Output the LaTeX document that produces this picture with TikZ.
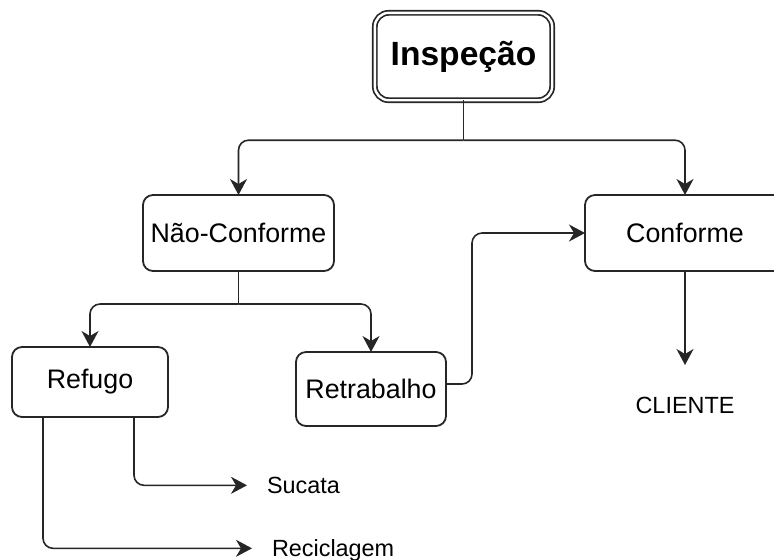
\documentclass[tikz,border=0pt]{standalone}
\usepackage{fontspec}
\setmainfont{Liberation Sans}
\usetikzlibrary{positioning, arrows.meta}

\begin{document}
\begin{tikzpicture}[
        every node/.style={align=center, outer sep=0pt},
        inspect/.style={rectangle, rounded corners=7pt, draw=black!85, double, line width=0.85pt, double distance=1.2pt, minimum width=88.7pt, minimum height=43.7pt, font=\fontsize{16.8pt}{20pt}\selectfont\bfseries},
        stage/.style={rectangle, rounded corners=5pt, draw=black!85, line width=0.9pt, minimum height=38pt, font=\fontsize{13.4pt}{15pt}\selectfont},
        outcome/.style={inner sep=0pt, text height=8.3pt, text depth=0pt, font=\fontsize{11.7pt}{14pt}\selectfont},
        link/.style={draw=black!85, line width=0.8pt},
        arrow/.style={link, -{Stealth[length=8pt, width=8.5pt, inset=2.5pt]}},
        flow/.style={arrow, rounded corners=5pt}
    ]

    \useasboundingbox (0,0) rectangle (387pt,-279.5pt);
    \clip (0,0) rectangle (387pt,-279.5pt);

    % Inspection
    \node[inspect] (insp) at (231.75pt,-28.25pt) {Inspeção};

    % Result of the inspection
    \node[stage, minimum width=95.5pt, below left=47.4pt and 20.4pt of insp] (nc) {Não-Conforme};
    \node[stage, minimum width=100pt, below right=47.4pt and 16.4pt of insp] (conf) {Conforme};

    % Non-conforming parts
    \node[stage, minimum width=78pt, minimum height=35pt, below=38pt of nc, xshift=-74.25pt] (ref) {Refugo};
    \node[stage, minimum width=75pt, minimum height=37pt, below=40.5pt of nc, xshift=66.25pt] (ret) {Retrabalho};

    % Destinations
    \node[outcome, below=63pt of conf] (cli) {CLIENTE};
    \node[outcome, below right=30pt and 49.5pt of ref] (suc) {Sucata};
    \node[outcome, below right=61.5pt and 52pt of ref] (rec) {Reciclagem};

    % Split points
    \coordinate[below=20pt of insp] (isplit);
    \coordinate[below=16.5pt of nc] (ncsplit);

    % Arrows
    \draw[link] (insp) -- (isplit);
    \draw[flow] (isplit) -| (nc);
    \draw[flow] (isplit) -| (conf);
    \draw[link] (nc) -- (ncsplit);
    \draw[flow] (ncsplit) -| (ref);
    \draw[flow] (ncsplit) -| (ret);
    \draw[flow] ([yshift=2.5pt]ret.east) -- ++(13pt,0) |- (conf);
    \draw[arrow, shorten >=16pt] (conf) -- (cli);
    \draw[flow, shorten >=10pt] ([xshift=22pt]ref.south) |- (suc);
    \draw[flow, shorten >=10pt] ([xshift=-23.5pt]ref.south) |- (rec);

\end{tikzpicture}
\end{document}
